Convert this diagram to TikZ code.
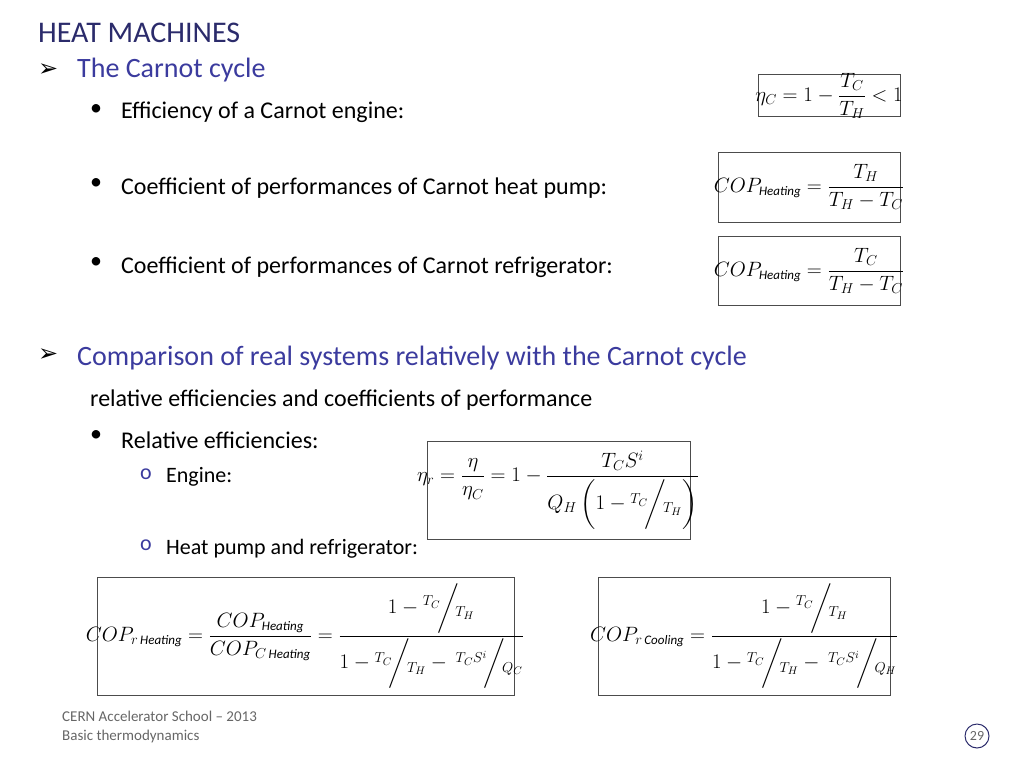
\documentclass[tikz,border=0pt]{standalone}
\usepackage{fontspec}
\setmainfont{Carlito}
\newfontfamily\dv{DejaVu Sans}
\usepackage{amsmath}
\definecolor{navy}{HTML}{2B2B6B}
\definecolor{blu}{HTML}{3B3B9E}
\newcommand{\sfr}[2]{{}^{#1}\!\bigg/\!{}_{#2}}
\newcommand{\lab}[1]{\text{\itshape\fontsize{13}{14}\selectfont #1}}
\begin{document}
\begin{tikzpicture}[x=1pt,y=-1pt,
  box/.style={draw=black!70,line width=0.6pt,inner sep=0pt,anchor=north west},
  txt/.style={anchor=west,inner sep=0pt,font=\fontsize{24}{28}\selectfont},
  hd/.style={anchor=west,inner sep=0pt,font=\fontsize{28}{32}\selectfont,text=blu},
  arr/.style={anchor=west,inner sep=0pt,font=\dv\bfseries\fontsize{24}{28}\selectfont},
  eq/.style={inner sep=0pt,font=\fontsize{21}{24}\selectfont}]
\useasboundingbox (0,0) rectangle (1024,768);
\node[anchor=west,inner sep=0pt,font=\fontsize{30}{33}\selectfont,text=navy] (title) at (38,33) {HEAT MACHINES};
\node[arr] (a1) at (38,70) {➢};
\node[hd] (h1) at (77,70) {The Carnot cycle};
\node[txt] (b1) at (90,110) {•};
\node[txt] (t1) at (121,112) {Efficiency of a Carnot engine:};
\node[txt] (b2) at (90,184) {•};
\node[txt] (t2) at (121,188) {Coefficient of performances of Carnot heat pump:};
\node[txt] (b3) at (90,263) {•};
\node[txt] (t3) at (121,267) {Coefficient of performances of Carnot refrigerator:};
\node[arr] (a2) at (38,355) {➢};
\node[hd] (h2) at (77,358) {Comparison of real systems relatively with the Carnot cycle};
\node[txt] (t4) at (90,400) {relative efficiencies and coefficients of performance};
\node[txt] (b4) at (90,436) {•};
\node[txt] (t5) at (121,440) {Relative efficiencies:};
\node[txt,text=blu,font=\fontsize{22}{26}\selectfont] (o1) at (140,474) {o};
\node[txt,font=\fontsize{22}{26}\selectfont] (t6) at (166,477) {Engine:};
\node[txt,text=blu,font=\fontsize{22}{26}\selectfont] (o2) at (140,545) {o};
\node[txt,font=\fontsize{22}{26}\selectfont] (t7) at (166,549) {Heat pump and refrigerator:};

\draw[box] (758,74) rectangle (900,116);
\node[eq] (e1) at (829,96) {$\eta_C=1-\dfrac{T_C}{T_H}<1$};
\draw[box] (718,152) rectangle (900,222);
\node[eq] (e2) at (809,187) {$COP_{\lab{Heating}}=\dfrac{T_H}{T_H-T_C}$};
\draw[box] (718,236) rectangle (900,305);
\node[eq] (e3) at (809,271) {$COP_{\lab{Heating}}=\dfrac{T_C}{T_H-T_C}$};
\draw[box] (427,441) rectangle (690,539);
\node[eq] (e4) at (558,490) {$\eta_r=\dfrac{\eta}{\eta_C}=1-\dfrac{T_CS^i}{Q_H\left(1-\sfr{T_C}{T_H}\right)}$};
\draw[box] (97,577) rectangle (514,695);
\node[eq] (e5) at (305,636) {$COP_{r\,\lab{Heating}}=\dfrac{COP_{\lab{Heating}}}{COP_{C\,\lab{Heating}}}=\dfrac{1-\sfr{T_C}{T_H}}{1-\sfr{T_C}{T_H}-\sfr{\;T_CS^i}{Q_C}}$};
\draw[box] (598,577) rectangle (890,695);
\node[eq] (e6) at (744,636) {$COP_{r\,\lab{Cooling}}=\dfrac{1-\sfr{T_C}{T_H}}{1-\sfr{T_C}{T_H}-\sfr{\;T_CS^i}{Q_H}}$};

\node[anchor=west,inner sep=0pt,font=\fontsize{15}{17}\selectfont,text=black!60] (f1) at (62,716) {CERN Accelerator School – 2013};
\node[anchor=west,inner sep=0pt,font=\fontsize{15}{17}\selectfont,text=black!60] (f2) at (62,736) {Basic thermodynamics};
\node[draw=navy,line width=1pt,circle,minimum size=24pt,inner sep=0pt,font=\fontsize{14}{16}\selectfont,text=black!60] (pg) at (977,736) {29};
\end{tikzpicture}
\end{document}
